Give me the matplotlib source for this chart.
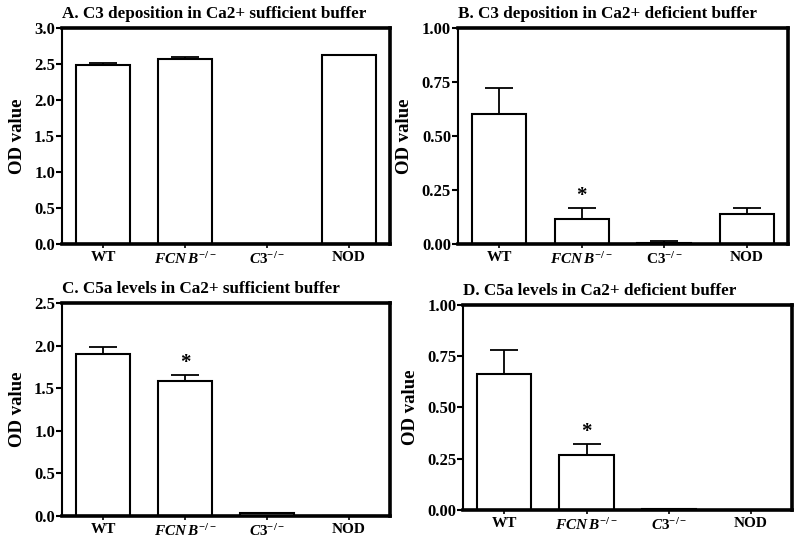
import matplotlib.pyplot as plt

plt.rcParams['font.family'] = 'Liberation Serif'
plt.rcParams['font.weight'] = 'bold'
plt.rcParams['mathtext.fontset'] = 'custom'
plt.rcParams['mathtext.rm'] = 'Liberation Serif:bold'
plt.rcParams['mathtext.it'] = 'Liberation Serif:italic:bold'
plt.rcParams['mathtext.bf'] = 'Liberation Serif:bold'

groups_italic = ['WT', r'$FCN\,B^{-/-}$', r'$C3^{-/-}$', 'NOD']
groups_b = ['WT', r'$FCN\,B^{-/-}$', r'$\mathrm{C3}^{-/-}$', 'NOD']

# panel A: C3 deposition, Ca2+ sufficient
a_mean = [2.48, 2.57, 0.0, 2.62]
a_err = [0.04, 0.025, 0.0, 0.012]
# panel B: C3 deposition, Ca2+ deficient
b_mean = [0.60, 0.115, 0.004, 0.14]
b_err = [0.12, 0.05, 0.008, 0.025]
# panel C: C5a, Ca2+ sufficient
c_mean = [1.90, 1.59, 0.03, 0.0]
c_err = [0.08, 0.06, 0.0, 0.0]
# panel D: C5a, Ca2+ deficient
d_mean = [0.665, 0.268, 0.006, 0.0]
d_err = [0.115, 0.055, 0.0, 0.0]

panels = [
    # rect, title, labels, means, errs, ymax, ticks, fmt, star index
    ([0.0775, 0.5515, 0.41, 0.397], 'A. C3 deposition in Ca2+ sufficient buffer',
     groups_italic, a_mean, a_err, 3.0, [0, 0.5, 1.0, 1.5, 2.0, 2.5, 3.0], '{:.1f}', None),
    ([0.5725, 0.5515, 0.4125, 0.397], 'B. C3 deposition in Ca2+ deficient buffer',
     groups_b, b_mean, b_err, 1.0, [0, 0.25, 0.5, 0.75, 1.0], '{:.2f}', 1),
    ([0.0775, 0.0515, 0.41, 0.3915], 'C. C5a levels in Ca2+ sufficient buffer',
     groups_italic, c_mean, c_err, 2.5, [0, 0.5, 1.0, 1.5, 2.0, 2.5], '{:.1f}', 1),
    ([0.579, 0.0625, 0.411, 0.377], 'D. C5a levels in Ca2+ deficient buffer',
     groups_italic, d_mean, d_err, 1.0, [0, 0.25, 0.5, 0.75, 1.0], '{:.2f}', 1),
]

fig = plt.figure(figsize=(8, 5.44), dpi=100)

for rect, title, labels, means, errs, ymax, ticks, fmt, star in panels:
    ax = fig.add_axes(rect)
    x = range(len(labels))
    ax.bar(x, means, width=0.66, color='white', edgecolor='black', linewidth=1.5, zorder=2)
    ax.errorbar(x, means, yerr=[[0] * len(errs), errs], fmt='none', ecolor='black',
                elinewidth=1.3, capsize=10, capthick=1.3, zorder=1)
    if star is not None:
        ax.text(star, means[star] + errs[star] + ymax * 0.01, '*', ha='center', va='bottom',
                fontsize=15)
    ax.set_xlim(-0.5, 3.5)
    ax.set_ylim(0, ymax)
    ax.set_yticks(ticks)
    ax.set_yticklabels([fmt.format(t) for t in ticks], fontsize=12)
    ax.set_xticks(list(x))
    ax.set_xticklabels(labels, fontsize=11)
    ax.tick_params(axis='x', direction='out', length=3, width=1.2, pad=2)
    ax.tick_params(axis='y', direction='out', length=4, width=1.5, pad=1)
    for side in ['top', 'right', 'bottom']:
        ax.spines[side].set_linewidth(2.6)
    ax.spines['left'].set_linewidth(1.5)
    ax.set_ylabel('OD value', fontsize=13.5, fontweight='bold', labelpad=6)
    ax.text(0, 1.03, title, transform=ax.transAxes, ha='left', va='bottom', fontsize=12.3,
            fontweight='bold')

fig.savefig('out.png', dpi=100)
